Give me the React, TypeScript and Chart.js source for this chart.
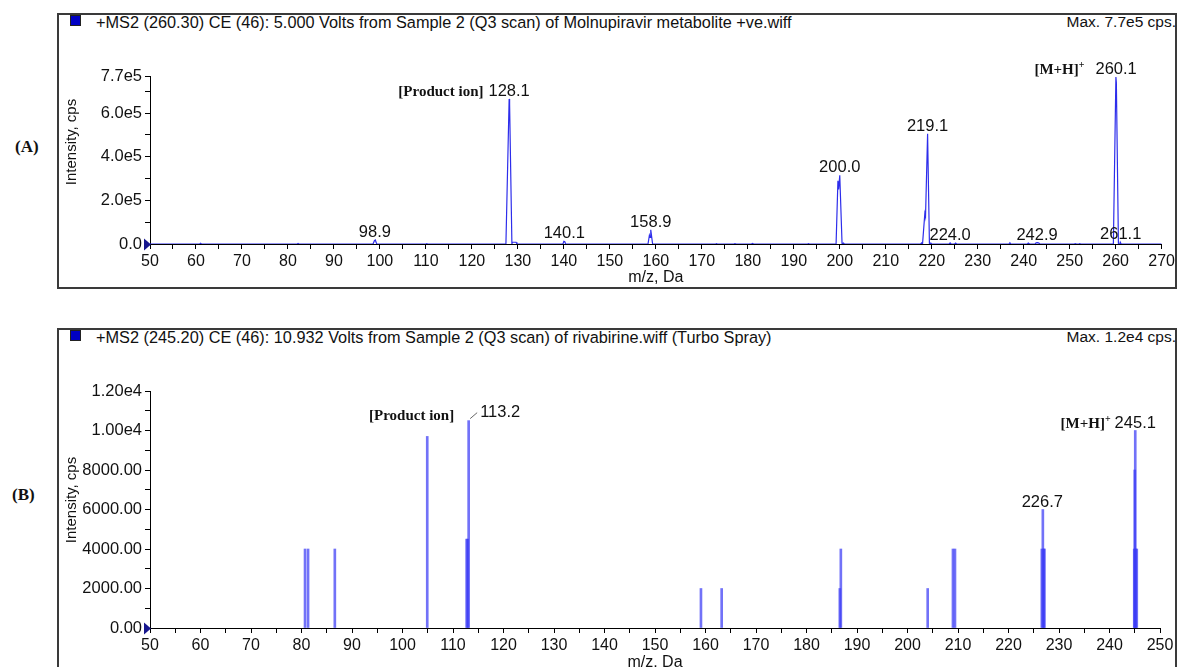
import React, { useEffect, useRef } from "react";
import { Chart, registerables } from "chart.js";
Chart.register(...registerables);
Chart.defaults.font.family = "'Liberation Sans', Arial, sans-serif";

// ---------- Panel A (Molnupiravir metabolite) ----------
const headerA = "+MS2 (260.30) CE (46): 5.000 Volts from Sample 2 (Q3 scan) of Molnupiravir metabolite +ve.wiff";
const maxTextA = "Max. 7.7e5 cps.";

// profile spectrum points (m/z, intensity)
const mzA = [
  50, 60.8, 61.0, 61.2, 82.0, 82.2, 82.4, 98.5, 98.8, 99.0, 99.3, 110.0, 110.2, 110.4,
  127.4, 128.1, 128.2, 128.7, 128.8, 129.6, 129.8, 139.8, 140.0, 140.2, 140.4,
  158.3, 158.6, 158.75, 158.9, 159.3, 173.0, 173.2, 173.4, 177.0, 177.2, 177.5,
  180.8, 181.0, 181.3, 193.0, 193.2, 193.4, 199.2, 199.6, 199.75, 200.0, 200.5, 200.8, 201.0,
  217.6, 217.8, 218.0, 218.5, 218.65, 219.1, 219.5, 219.8, 220.0, 223.8, 224.0, 224.2,
  225.0, 225.2, 225.4, 236.8, 237.0, 237.2, 240.8, 241.0, 241.3, 242.5, 242.7, 243.0, 243.3, 243.5,
  251.0, 251.2, 251.5, 252.0, 252.2, 252.4, 259.5, 260.05, 260.15, 260.6, 260.9, 261.0, 261.2, 270,
];
const intA = [
  0, 0, 3000, 0, 0, 2500, 0, 0, 15000, 18000, 0, 0, 1500, 0,
  0, 665000, 640000, 0, 8000, 8000, 0, 0, 12000, 10000, 0,
  0, 40000, 30000, 65000, 0, 0, 1500, 0, 0, 2000, 0,
  0, 3000, 0, 0, 2000, 0, 0, 290000, 250000, 315000, 0, 4000, 0,
  0, 5000, 0, 140000, 125000, 505000, 0, 4000, 0, 0, 5000, 0,
  0, 4000, 0, 0, 6000, 0, 0, 4000, 0, 0, 5000, 6000, 4000, 0,
  0, 2000, 0, 0, 2000, 0, 0, 765000, 740000, 0, 0, 8000, 0, 0,
];

const xLabelsA = [50, 60, 70, 80, 90, 100, 110, 120, 130, 140, 150, 160, 170, 180, 190, 200, 210, 220, 230, 240, 250, 260, 270];
const yTickValsA = [0, 200000, 400000, 600000, 770000];
const yTickLabelsA = ["0.0", "2.0e5", "4.0e5", "6.0e5", "7.7e5"];
const yMinorA = [100000, 300000, 500000, 700000];

const peakLabelMzA = [98.9, 128.1, 140.1, 158.9, 200.0, 219.1, 224.0, 242.9, 260.1, 261.1];
const peakLabelIntA = [18000, 665000, 12000, 65000, 315000, 505000, 5000, 6000, 765000, 8000];

// ---------- Panel B (Ribavirin) ----------
const headerB = "+MS2 (245.20) CE (46): 10.932 Volts from Sample 2 (Q3 scan) of rivabirine.wiff (Turbo Spray)";
const maxTextB = "Max. 1.2e4 cps.";

const stickMzB = [
  80.7, 81.3, 86.6, 104.9, 112.7, 112.9, 113.1, 159.1, 163.2, 186.6, 186.8, 204.0, 209.0, 209.4,
  226.6, 226.8, 227.0, 227.1, 244.9, 245.0, 245.1, 245.2, 245.4,
];
const stickIntB = [
  4000, 4000, 4000, 9700, 4500, 4500, 10500, 2000, 2000, 2000, 4000, 2000, 4000, 4000,
  4000, 6000, 4000, 4000, 4000, 8000, 10000, 4000, 4000,
];

const xLabelsB = [50, 60, 70, 80, 90, 100, 110, 120, 130, 140, 150, 160, 170, 180, 190, 200, 210, 220, 230, 240, 250];
const yTickValsB = [0, 2000, 4000, 6000, 8000, 10000, 12000];
const yTickLabelsB = ["0.00", "2000.00", "4000.00", "6000.00", "8000.00", "1.00e4", "1.20e4"];
const yMinorB = [1000, 3000, 5000, 7000, 9000, 11000];

const peakLabelMzB = [113.2, 226.7, 245.1];
const peakLabelIntB = [10500, 6000, 10000];

// ---------- drawing helpers ----------
const TXT = "#111";
const SANS = "'Liberation Sans', Arial, sans-serif";
const SERIF = "'Liberation Serif', 'Times New Roman', serif";

const peakPlugin = {
  id: "peakLabels",
  afterDatasetsDraw(chart: any, _args: any, opts: any) {
    const { ctx, chartArea } = chart;
    const xs = chart.scales.x;
    const ys = chart.scales.y;
    ctx.save();
    const y0 = Math.round(ys.getPixelForValue(0) - 0.5) + 0.5;
    ctx.strokeStyle = "#000";
    ctx.lineWidth = 1;
    ctx.beginPath();
    ctx.moveTo(chartArea.left, y0);
    ctx.lineTo(chartArea.right, y0);
    ctx.stroke();
    // zero marker
    ctx.fillStyle = "#16168e";
    ctx.beginPath();
    ctx.moveTo(chartArea.left + 1, y0);
    ctx.lineTo(chartArea.left - 6, y0 - 6);
    ctx.lineTo(chartArea.left - 6, y0 + 6);
    ctx.closePath();
    ctx.fill();

    for (const it of opts.items || []) {
      const px = xs.getPixelForValue(it.x);
      const py = ys.getPixelForValue(it.y);
      ctx.font = "16.5px " + SANS;
      ctx.fillStyle = TXT;
      let left: number;
      let base: number;
      if (it.leader) {
        ctx.strokeStyle = "#666";
        ctx.lineWidth = 1;
        ctx.beginPath();
        ctx.moveTo(px + 1, py - 2);
        ctx.lineTo(px + 8, py - 8);
        ctx.stroke();
        ctx.textAlign = "left";
        left = px + 11;
        base = py - 4;
        ctx.fillText(it.text, left, base);
      } else {
        ctx.textAlign = "center";
        const w = ctx.measureText(it.text).width;
        left = px - w / 2;
        base = py - 3;
        ctx.fillText(it.text, px, base);
      }
      if (it.prefix) {
        const p = it.prefix;
        let supW = 0;
        if (p.sup) {
          ctx.font = "bold 10px " + SERIF;
          supW = ctx.measureText(p.sup).width;
        }
        const right = left - p.gap;
        const pb = base + (p.dy || 0);
        if (p.sup) {
          ctx.textAlign = "left";
          ctx.fillText(p.sup, right - supW, pb - 6);
        }
        ctx.font = "bold 15px " + SERIF;
        ctx.textAlign = "right";
        ctx.fillText(p.text, right - supW, pb);
      }
    }
    ctx.restore();
  },
};

function axisCommon(labelFont: number) {
  return {
    grid: { drawOnChartArea: false, drawTicks: true, tickLength: 5, color: "#000", lineWidth: 1 },
    border: { display: true, color: "#000", width: 1 },
    ticks: { autoSkip: false, maxRotation: 0, minRotation: 0, padding: 3, color: TXT, font: { size: labelFont } },
  };
}

function makeConfig(kind: "A" | "B"): any {
  const isA = kind === "A";
  const xLabels = isA ? xLabelsA : xLabelsB;
  const xAll = [...xLabels, ...xLabels.slice(0, -1).map((v) => v + 5)].sort((a, b) => a - b);
  const yVals = isA ? yTickValsA : yTickValsB;
  const yLabels = isA ? yTickLabelsA : yTickLabelsB;
  const yAll = [...yVals, ...(isA ? yMinorA : yMinorB)].sort((a, b) => a - b);
  const xc = axisCommon(16);
  const yc = axisCommon(16.5);

  const labelMz = isA ? peakLabelMzA : peakLabelMzB;
  const labelInt = isA ? peakLabelIntA : peakLabelIntB;
  const items = labelMz.map((m, i) => ({ text: m.toFixed(1), x: m, y: labelInt[i] } as any));
  if (isA) {
    items[1].prefix = { text: "[Product ion]", gap: 5 };
    items[8].prefix = { text: "[M+H]", sup: "+", gap: 11 };
  } else {
    items[0].leader = true;
    items[0].prefix = { text: "[Product ion]", gap: 26, dy: 3 };
    items[2].prefix = { text: "[M+H]", sup: "+", gap: 4 };
  }

  const dataset: any = isA
    ? {
        type: "line",
        data: mzA.map((m, i) => ({ x: m, y: intA[i] })),
        borderColor: "rgb(45,45,235)",
        borderWidth: 1.2,
        pointRadius: 0,
        fill: false,
        tension: 0,
      }
    : {
        type: "bar",
        data: stickMzB.map((m, i) => ({ x: m, y: stickIntB[i] })),
        backgroundColor: "rgba(60,60,245,0.72)",
        borderWidth: 0,
        barThickness: 2,
      };

  return {
    type: isA ? "line" : "bar",
    data: { datasets: [dataset] },
    plugins: [peakPlugin],
    options: {
      responsive: false,
      animation: false,
      devicePixelRatio: 1,
      events: [],
      layout: { padding: { left: 0, top: 63, right: isA ? 15 : 18, bottom: 0 } },
      plugins: {
        legend: { display: false },
        tooltip: { enabled: false },
        peakLabels: { items },
      },
      scales: {
        x: {
          type: "linear",
          min: 50,
          max: isA ? 270 : 250,
          offset: false,
          grid: { ...xc.grid, offset: false },
          border: xc.border,
          afterFit: (s: any) => {
            s.height = isA ? 44 : 45;
          },
          afterBuildTicks: (s: any) => {
            s.ticks = xAll.map((v) => ({ value: v }));
          },
          ticks: {
            ...xc.ticks,
            callback: (v: any) => (xLabels.includes(v) ? String(v) : ""),
          },
          title: {
            display: true,
            text: "m/z, Da",
            color: TXT,
            font: { size: 16 },
            padding: { top: 0, bottom: 1 },
          },
        },
        y: {
          type: "linear",
          min: 0,
          max: isA ? 770000 : 12000,
          grid: yc.grid,
          border: yc.border,
          afterFit: (s: any) => {
            s.width = 93;
          },
          afterBuildTicks: (s: any) => {
            s.ticks = yAll.map((v) => ({ value: v }));
          },
          ticks: {
            ...yc.ticks,
            callback: (v: any) => {
              const k = yVals.indexOf(v);
              return k >= 0 ? yLabels[k] : "";
            },
          },
        },
      },
    },
  };
}

function ChartCanvas({ kind, left, top, width, height }: any) {
  const ref = useRef<HTMLCanvasElement>(null);
  useEffect(() => {
    const chart = new Chart(ref.current as HTMLCanvasElement, makeConfig(kind));
    return () => chart.destroy();
  }, [kind]);
  return (
    <canvas
      ref={ref}
      width={width}
      height={height}
      style={{ position: "absolute", left, top, width, height, display: "block" }}
    />
  );
}

function Panel({ top, height, header, maxText }: any) {
  return (
    <>
      <div
        style={{
          position: "absolute",
          left: 57,
          top,
          width: 1120,
          height,
          border: "2px solid #3a3a3a",
          boxSizing: "border-box",
        }}
      />
      <div
        style={{
          position: "absolute",
          left: 70,
          top: top + 2,
          width: 11,
          height: 11,
          background: "#0000c4",
          border: "1px solid #222",
          boxSizing: "border-box",
        }}
      />
      <div
        style={{
          position: "absolute",
          left: 96,
          top: top,
          fontFamily: SANS,
          fontSize: 16.3,
          lineHeight: "18px",
          color: TXT,
          whiteSpace: "nowrap",
        }}
      >
        {header}
      </div>
      <div
        style={{
          position: "absolute",
          right: 2,
          top: top,
          fontFamily: SANS,
          fontSize: 15.5,
          lineHeight: "18px",
          color: TXT,
          whiteSpace: "nowrap",
        }}
      >
        {maxText}
      </div>
    </>
  );
}

function YTitle({ cx, cy }: any) {
  return (
    <div
      style={{
        position: "absolute",
        left: cx - 70,
        top: cy - 9,
        width: 140,
        height: 18,
        lineHeight: "18px",
        textAlign: "center",
        fontFamily: SANS,
        fontSize: 15,
        color: TXT,
        transform: "rotate(-90deg)",
        transformOrigin: "50% 50%",
        whiteSpace: "nowrap",
      }}
    >
      Intensity, cps
    </div>
  );
}

function PanelTag({ text, left, cy }: any) {
  return (
    <div
      style={{
        position: "absolute",
        left,
        top: cy - 10,
        height: 20,
        lineHeight: "20px",
        fontFamily: SERIF,
        fontWeight: "bold",
        fontSize: 17,
        color: TXT,
      }}
    >
      {text}
    </div>
  );
}

export default function App() {
  return (
    <div
      style={{
        position: "fixed",
        left: 0,
        top: 0,
        width: 1178,
        height: 667,
        background: "#fff",
        overflow: "hidden",
      }}
    >
      <Panel top={13} height={276} header={headerA} maxText={maxTextA} />
      <Panel top={328} height={400} header={headerB} maxText={maxTextB} />
      <ChartCanvas kind="A" left={57} top={13} width={1121} height={275} />
      <ChartCanvas kind="B" left={57} top={328} width={1121} height={345} />
      <YTitle cx={71} cy={142} />
      <YTitle cx={71} cy={500} />
      <PanelTag text="(A)" left={15} cy={147} />
      <PanelTag text="(B)" left={12} cy={495} />
    </div>
  );
}
